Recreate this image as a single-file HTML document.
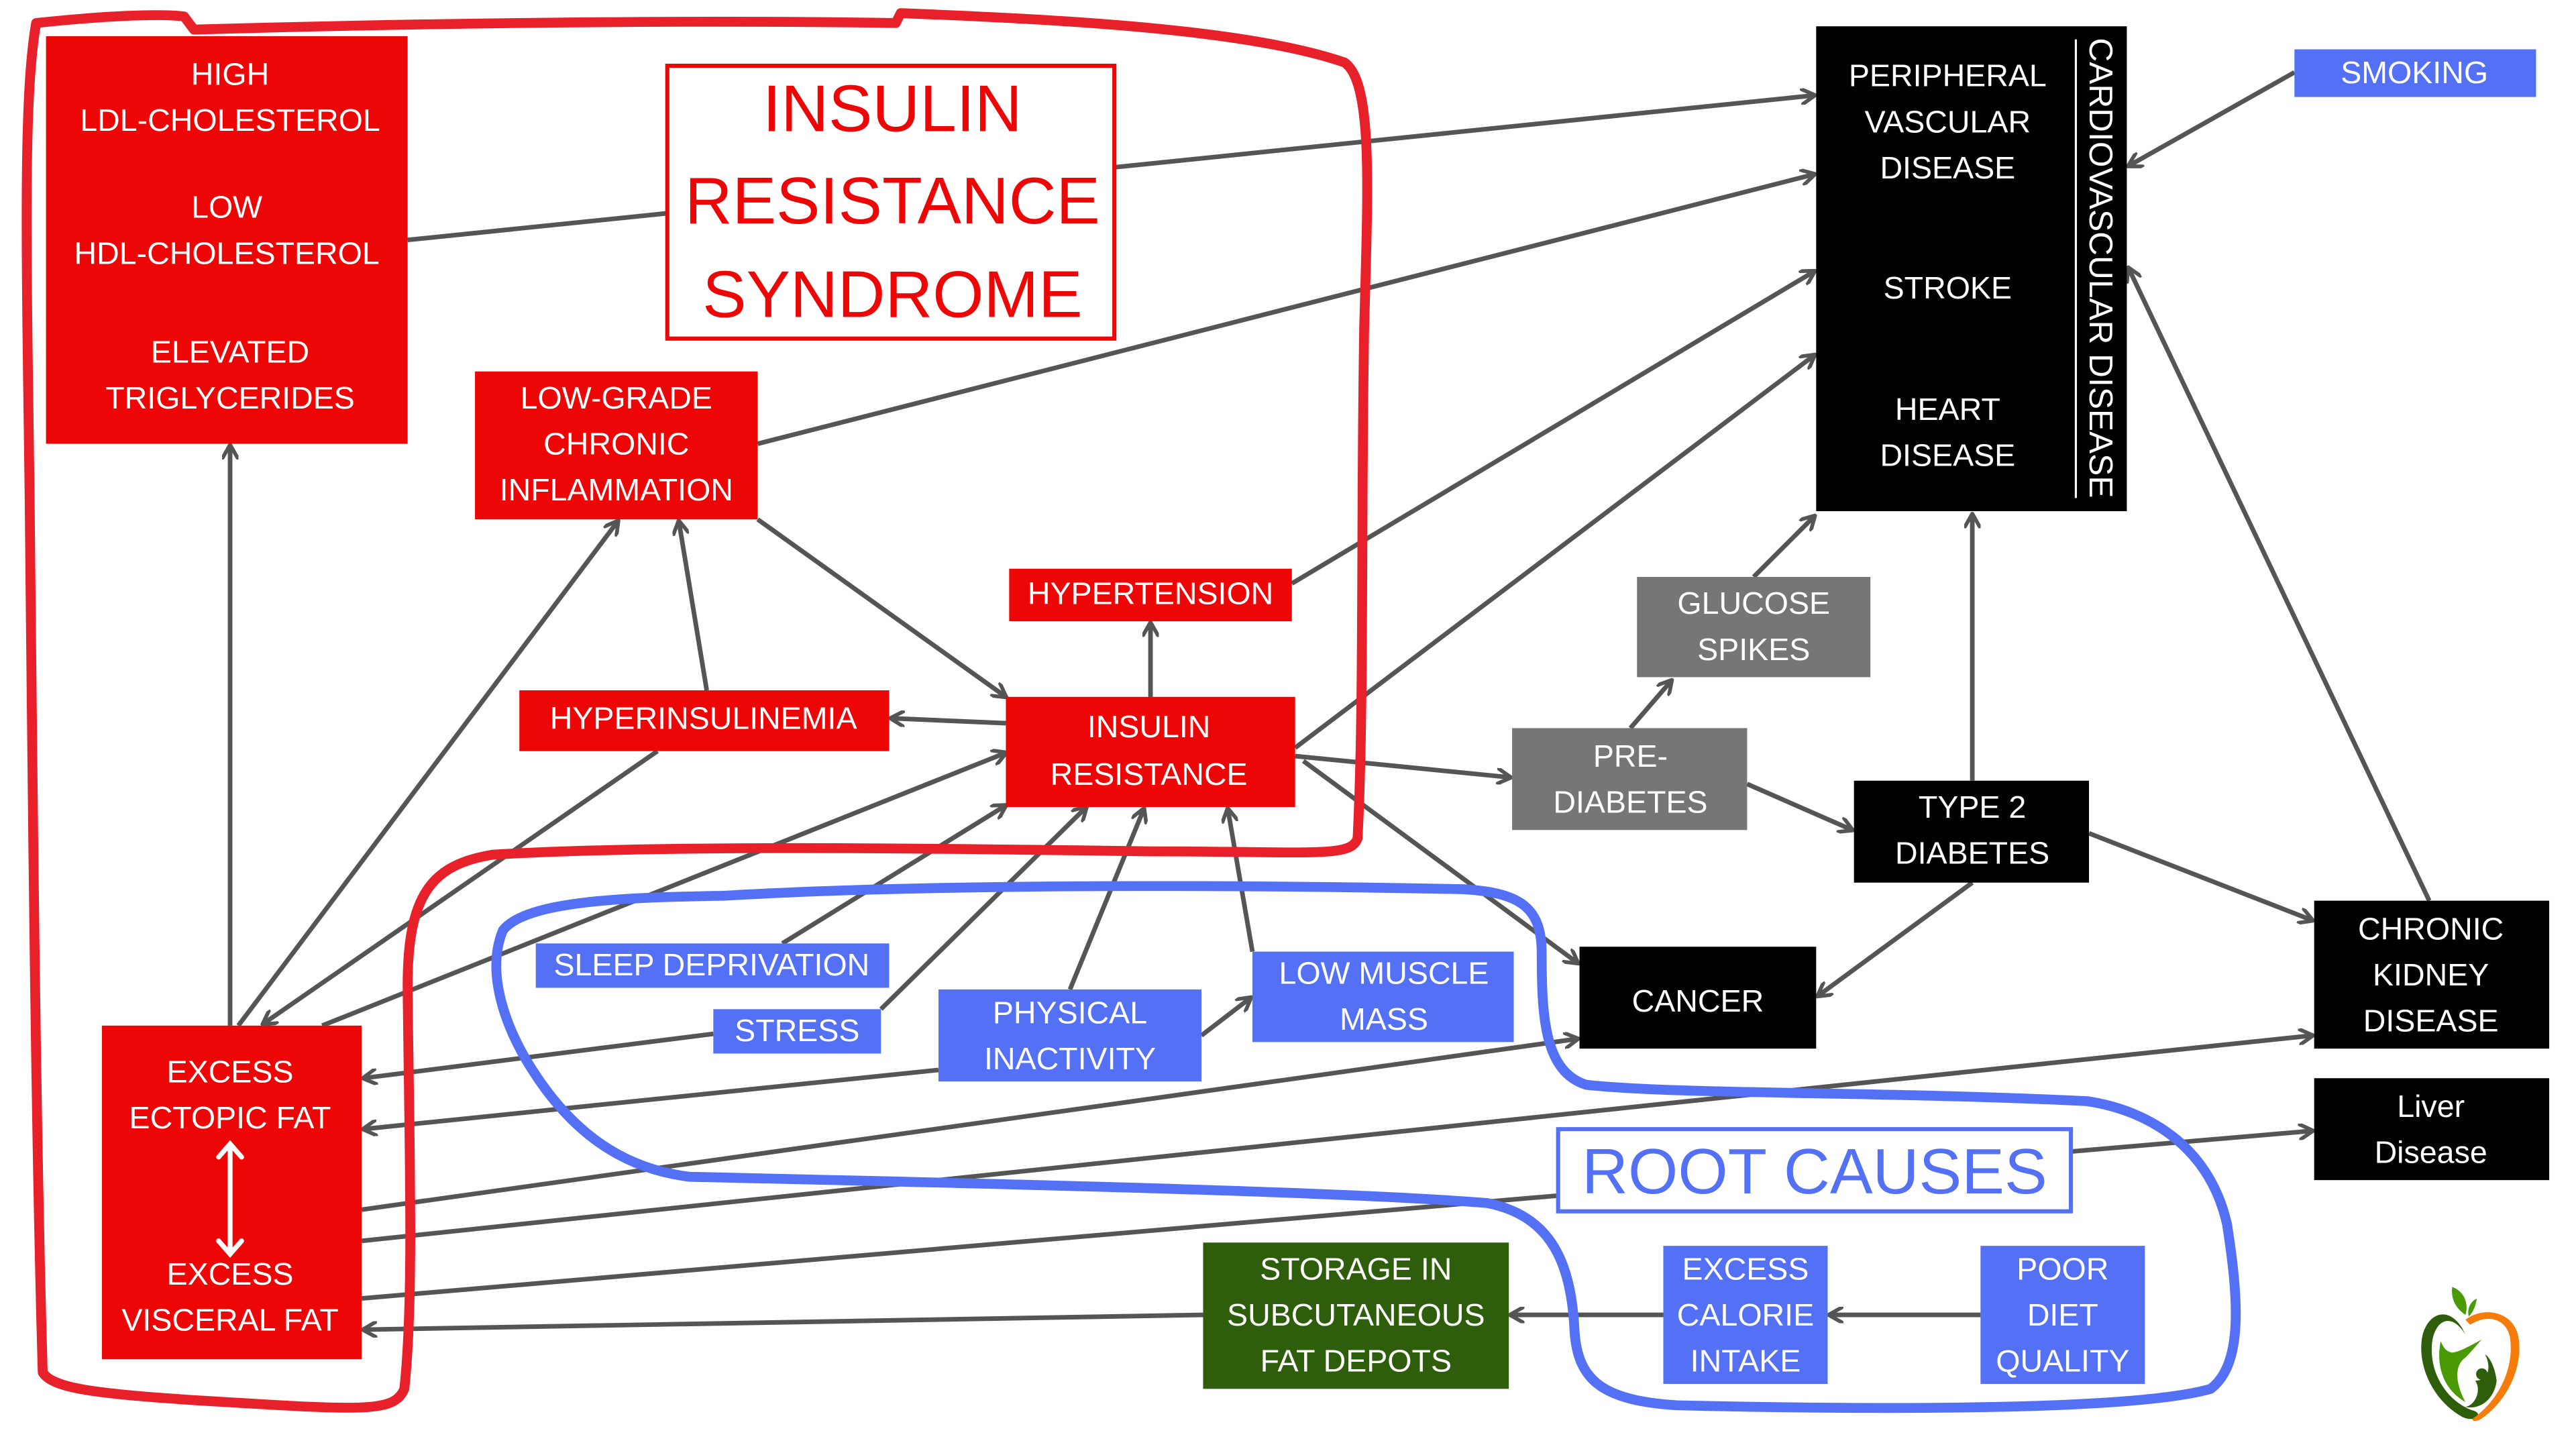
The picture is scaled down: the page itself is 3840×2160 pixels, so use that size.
<!DOCTYPE html>
<html><head><meta charset="utf-8"><style>
html,body{margin:0;padding:0;background:#fff;}
svg{display:block;}
text{font-family:"Liberation Sans",sans-serif;}
</style></head><body>
<svg width="3840" height="2160" viewBox="0 0 1567.3 881.6" preserveAspectRatio="none" xmlns="http://www.w3.org/2000/svg">
<defs>
<marker id="a" markerWidth="10" markerHeight="10" refX="8.5" refY="5" orient="auto" markerUnits="userSpaceOnUse" viewBox="0 0 10 10">
<polyline points="1,0.5 9,5 1,9.5" fill="none" stroke="#555" stroke-width="2.3" stroke-linecap="round" stroke-linejoin="round"/>
</marker>
</defs>
<rect width="1567.3" height="881.6" fill="#fff"/>

<g stroke="#555" stroke-width="2.8" fill="none" marker-end="url(#a)">
<line x1="248" y1="146" x2="1104" y2="58"/>
<line x1="461" y1="270" x2="1104" y2="106"/>
<line x1="786" y1="355" x2="1104" y2="165"/>
<line x1="788" y1="455" x2="1104" y2="216"/>
<line x1="1200" y1="475" x2="1200" y2="313"/>
<line x1="1067" y1="351" x2="1104" y2="314"/>
<line x1="992" y1="443" x2="1017" y2="414"/>
<line x1="788" y1="460" x2="919" y2="473"/>
<line x1="1063" y1="477" x2="1127" y2="505"/>
<line x1="1271" y1="507" x2="1407" y2="560"/>
<line x1="1200" y1="537" x2="1106" y2="606"/>
<line x1="793" y1="463" x2="960" y2="586"/>
<line x1="1478" y1="548" x2="1295" y2="163"/>
<line x1="1396" y1="44" x2="1295" y2="101"/>
<line x1="700" y1="424" x2="700" y2="379"/>
<line x1="612" y1="440" x2="542" y2="437"/>
<line x1="430" y1="420" x2="413" y2="317"/>
<line x1="461" y1="316" x2="612" y2="424"/>
<line x1="140" y1="624" x2="140" y2="271"/>
<line x1="145" y1="624" x2="376" y2="317"/>
<line x1="400" y1="457" x2="160" y2="623"/>
<line x1="196" y1="624" x2="612" y2="458"/>
<line x1="476" y1="574" x2="612" y2="490"/>
<line x1="536" y1="614" x2="661" y2="491"/>
<line x1="651" y1="602" x2="696" y2="492"/>
<line x1="762" y1="579" x2="747" y2="492"/>
<line x1="731" y1="630" x2="761" y2="607"/>
<line x1="434" y1="629" x2="221" y2="656"/>
<line x1="571" y1="651" x2="221" y2="687"/>
<line x1="220" y1="736" x2="960" y2="632"/>
<line x1="220" y1="755" x2="1407" y2="630"/>
<line x1="220" y1="790" x2="1407" y2="688"/>
<line x1="732" y1="800" x2="221" y2="809"/>
<line x1="1012" y1="800" x2="919" y2="800"/>
<line x1="1205" y1="800" x2="1113" y2="800"/>
</g>

<path d="M22,14 C60,10 95,8 112,10 L118,18 C260,14 420,12 545,14 L548,8 C650,12 760,18 818,38 C836,50 832,120 830,200 C828,320 830,430 826,510 C822,522 800,518 700,518 C560,516 400,514 300,520 C262,526 248,545 248,600 C249,700 252,790 246,845 C240,860 220,858 120,852 C60,848 32,845 26,835 C22,700 20,500 18,300 C16,150 14,60 22,14 Z" fill="none" stroke="#e8202a" stroke-width="6" stroke-linejoin="round"/>
<path d="M440,545 C380,546 320,548 306,566 C296,590 305,625 330,660 C355,695 385,712 420,716 C600,720 820,725 905,732 C945,740 956,770 958,810 C960,840 975,852 1020,855 C1150,858 1300,858 1345,845 C1365,830 1362,790 1355,745 C1345,700 1310,676 1270,670 C1150,664 1020,666 965,660 C940,652 938,620 938,580 C938,552 925,543 890,541 C740,538 560,538 440,545 Z" fill="none" stroke="#5470f5" stroke-width="6" stroke-linejoin="round"/>

<g fill="#ec0606">
<rect x="28" y="22" width="220" height="248"/>
<rect x="289" y="226" width="172" height="90"/>
<rect x="614" y="346" width="172" height="32"/>
<rect x="316" y="420" width="225" height="37"/>
<rect x="612" y="424" width="176" height="67"/>
<rect x="62" y="624" width="158" height="203"/>
</g>
<rect x="406" y="40" width="272" height="166" fill="#fff" stroke="#ec0606" stroke-width="2.5"/>

<g fill="#000">
<rect x="1105" y="16" width="189" height="295"/>
<rect x="1128" y="475" width="143" height="62"/>
<rect x="961" y="576" width="144" height="62"/>
<rect x="1408" y="548" width="143" height="90"/>
<rect x="1408" y="656" width="143" height="62"/>
</g>
<line x1="1263" y1="24" x2="1263" y2="303" stroke="#fff" stroke-width="1.3"/>

<g fill="#767676">
<rect x="996" y="351" width="142" height="61"/>
<rect x="920" y="443" width="143" height="62"/>
</g>
<g fill="#5470f5">
<rect x="1396" y="30" width="147" height="29"/>
<rect x="326" y="574" width="215" height="27"/>
<rect x="434" y="614" width="102" height="27"/>
<rect x="571" y="602" width="160" height="56"/>
<rect x="762" y="579" width="159" height="55"/>
<rect x="1012" y="758" width="100" height="84"/>
<rect x="1205" y="758" width="100" height="84"/>
</g>
<rect x="732" y="756" width="186" height="89" fill="#2e5e0b"/>
<rect x="948" y="687" width="312" height="50" fill="#fff" stroke="#5470f5" stroke-width="2.5"/>

<g stroke="#fff" stroke-width="3" fill="none" stroke-linecap="round">
<line x1="140" y1="697" x2="140" y2="762"/>
<polyline points="133,704 140,696 147,704"/>
<polyline points="133,755 140,763 147,755"/>
</g>

<g fill="#fff" font-size="19" text-anchor="middle" dominant-baseline="central">
<text x="140" y="45">HIGH</text>
<text x="140" y="73">LDL-CHOLESTEROL</text>
<text x="138" y="126">LOW</text>
<text x="138" y="154">HDL-CHOLESTEROL</text>
<text x="140" y="214">ELEVATED</text>
<text x="140" y="242">TRIGLYCERIDES</text>
<text x="375" y="242">LOW-GRADE</text>
<text x="375" y="270">CHRONIC</text>
<text x="375" y="298">INFLAMMATION</text>
<text x="700" y="361">HYPERTENSION</text>
<text x="428" y="437">HYPERINSULINEMIA</text>
<text x="699" y="442">INSULIN</text>
<text x="699" y="471">RESISTANCE</text>
<text x="140" y="652">EXCESS</text>
<text x="140" y="680">ECTOPIC FAT</text>
<text x="140" y="775">EXCESS</text>
<text x="140" y="803">VISCERAL FAT</text>
<text x="1185" y="46">PERIPHERAL</text>
<text x="1185" y="74">VASCULAR</text>
<text x="1185" y="102">DISEASE</text>
<text x="1185" y="175">STROKE</text>
<text x="1185" y="249">HEART</text>
<text x="1185" y="277">DISEASE</text>
<text x="1469" y="44">SMOKING</text>
<text x="1067" y="367">GLUCOSE</text>
<text x="1067" y="395">SPIKES</text>
<text x="992" y="460">PRE-</text>
<text x="992" y="488">DIABETES</text>
<text x="1200" y="491">TYPE 2</text>
<text x="1200" y="519">DIABETES</text>
<text x="1033" y="609">CANCER</text>
<text x="1479" y="565">CHRONIC</text>
<text x="1479" y="593">KIDNEY</text>
<text x="1479" y="621">DISEASE</text>
<text x="1479" y="673">Liver</text>
<text x="1479" y="701">Disease</text>
<text x="433" y="587">SLEEP DEPRIVATION</text>
<text x="485" y="627">STRESS</text>
<text x="651" y="616">PHYSICAL</text>
<text x="651" y="644">INACTIVITY</text>
<text x="842" y="592">LOW MUSCLE</text>
<text x="842" y="620">MASS</text>
<text x="825" y="772">STORAGE IN</text>
<text x="825" y="800">SUBCUTANEOUS</text>
<text x="825" y="828">FAT DEPOTS</text>
<text x="1062" y="772">EXCESS</text>
<text x="1062" y="800">CALORIE</text>
<text x="1062" y="828">INTAKE</text>
<text x="1255" y="772">POOR</text>
<text x="1255" y="800">DIET</text>
<text x="1255" y="828">QUALITY</text>
<text transform="translate(1278,163) rotate(90)" font-size="20" textLength="280" lengthAdjust="spacingAndGlyphs">CARDIOVASCULAR DISEASE</text>
</g>
<g fill="#ec0606" font-size="40" text-anchor="middle" dominant-baseline="central">
<text x="543" y="66">INSULIN</text>
<text x="543" y="122">RESISTANCE</text>
<text x="543" y="179">SYNDROME</text>
</g>
<text x="1104" y="713" fill="#5470f5" font-size="39" text-anchor="middle" dominant-baseline="central">ROOT CAUSES</text>

<g>
<path d="M1498,808 C1490,795 1478,798 1474,812 C1470,830 1480,852 1498,862 C1506,866 1512,860 1504,858 C1488,852 1477,834 1480,815 C1483,801 1493,800 1500,812 Z" fill="#2e5e0b"/>
<path d="M1500,803 C1510,795 1528,797 1532,812 C1536,830 1526,852 1510,863 C1506,866 1502,864 1506,862 C1522,850 1530,830 1527,813 C1524,801 1512,800 1503,806 Z" fill="#f57c0a"/>
<path d="M1492,783 C1500,786 1502,794 1500,800 C1494,796 1491,790 1492,783 Z" fill="#4a9a06"/>
<path d="M1507,790 C1506,796 1504,799 1502,801 C1501,796 1503,792 1507,790 Z" fill="#4a9a06"/>
<path d="M1485,816 C1482,830 1486,845 1500,853 C1493,840 1494,830 1500,826 C1504,822 1507,818 1510,815 C1504,818 1498,822 1492,823 C1487,822 1486,818 1485,816 Z" fill="#4a9a06"/>
<circle cx="1492" cy="829" r="3.5" fill="#4a9a06"/>
<circle cx="1510" cy="836" r="3.5" fill="#2e5e0b"/>
<path d="M1506,840 C1510,846 1506,855 1500,856 C1510,858 1518,850 1519,840 C1518,832 1515,826 1512,824 C1516,832 1514,840 1506,840 Z" fill="#2e5e0b"/>
</g>
</svg>
</body></html>
